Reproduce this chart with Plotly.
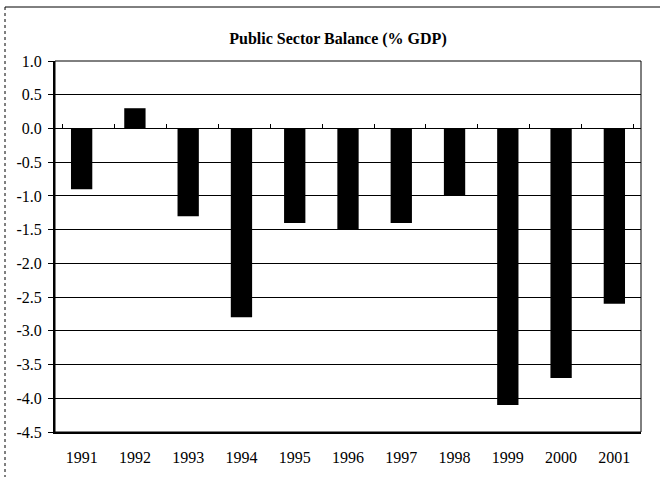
import plotly.graph_objects as go

years = ["1991", "1992", "1993", "1994", "1995", "1996", "1997", "1998", "1999", "2000", "2001"]
balance = [-0.9, 0.3, -1.3, -2.8, -1.4, -1.5, -1.4, -1.0, -4.1, -3.7, -2.6]
y_ticks = [1.0, 0.5, 0.0, -0.5, -1.0, -1.5, -2.0, -2.5, -3.0, -3.5, -4.0, -4.5]
title_text = "Public Sector Balance (% GDP)"

font_family = "Times New Roman"

fig = go.Figure()
fig.add_trace(go.Bar(
    x=years, y=balance,
    marker=dict(color="black", line=dict(width=0)),
    width=0.4, showlegend=False, hoverinfo="x+y",
))
# invisible trace for the zero-line axis with ticks at category boundaries
fig.add_trace(go.Scatter(x=years, y=[0]*len(years), xaxis="x2", mode="markers",
                         marker=dict(opacity=0), showlegend=False, hoverinfo="skip"))

ymin, ymax = -4.5, 1.0
fig.update_layout(
    width=660, height=477,
    margin=dict(l=55, r=19, t=61, b=45, autoexpand=False),
    paper_bgcolor="white", plot_bgcolor="white",
    font=dict(family=font_family, size=16, color="black"),
    title=dict(text="<b>" + title_text + "</b>", x=338/660, xref="container", xanchor="center",
               y=1 - 38/477, yref="container", yanchor="middle",
               font=dict(family=font_family, size=16, color="black")),
    xaxis=dict(type="category", categoryorder="array", categoryarray=years,
               showgrid=False, showline=True, linecolor="black", linewidth=2,
               ticks="", ticklabelstandoff=10, zeroline=False, automargin=False,
               tickfont=dict(family=font_family, size=16)),
    xaxis2=dict(type="category", categoryorder="array", categoryarray=years,
                overlaying="x", anchor="free", position=(0 - ymin) / (ymax - ymin),
                side="top", showgrid=False, showline=False, showticklabels=False,
                ticks="outside", tickson="boundaries", ticklen=4, tickcolor="black",
                tickwidth=1, automargin=False),
    yaxis=dict(range=[ymin, ymax], tickvals=y_ticks, ticktext=[f"{v:.1f}" for v in y_ticks],
               showgrid=True, gridcolor="black", gridwidth=1,
               showline=True, linecolor="black", linewidth=2,
               ticks="outside", ticklen=5, tickcolor="black", tickwidth=1,
               ticklabelstandoff=3, zeroline=False, automargin=False,
               tickfont=dict(family=font_family, size=16)),
    shapes=[
        dict(type="rect", xref="paper", yref="paper", x0=0, x1=1, y0=0, y1=1,
             line=dict(color="black", width=1)),
        dict(type="line", xref="paper", yref="paper", x0=-50/586, x1=1 + 19/586,
             y0=(432-7)/371, y1=(432-7)/371, line=dict(color="black", width=1)),
        dict(type="line", xref="paper", yref="paper", x0=-50/586, x1=-50/586,
             y0=(432-7)/371, y1=(432-477)/371, line=dict(color="black", width=1, dash="dot")),
    ],
)

fig.write_html("out.html", config={"displayModeBar": False},
               post_script="document.body.style.margin='0';")
